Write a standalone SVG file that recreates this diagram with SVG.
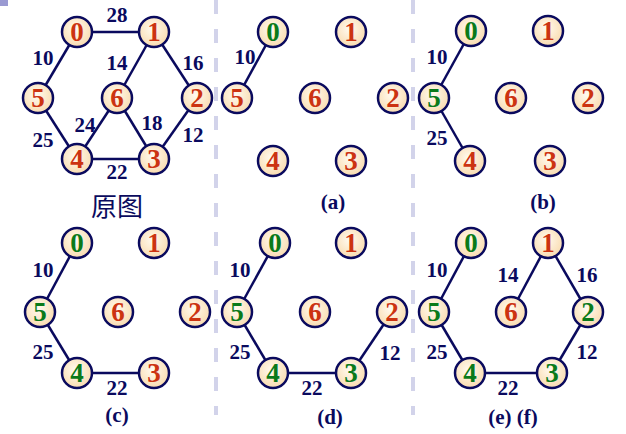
<svg xmlns="http://www.w3.org/2000/svg" width="626" height="434" viewBox="0 0 626 434">
<defs>
<radialGradient id="g" cx="45%" cy="40%" r="60%">
<stop offset="0" stop-color="#fffaf0"/>
<stop offset="1" stop-color="#f9dcb0"/>
</radialGradient>
</defs>
<style>
.nd{fill:url(#g);stroke:#0a0a5e;stroke-width:2.5}
.t{font-family:"Liberation Serif","Times New Roman",serif;font-weight:bold;font-size:27px;text-anchor:middle}
.r{fill:#cc3311}
.gr{fill:#0a7a1a}
.e{stroke:#0a0a5e;stroke-width:2.5;fill:none}
.w{font-family:"Liberation Serif","Times New Roman",serif;font-weight:bold;font-size:21px;text-anchor:middle;fill:#0a0a5e}
.cap{font-family:"Liberation Serif","Times New Roman",serif;font-weight:bold;font-size:21px;text-anchor:middle;fill:#0a0a5e}
.sep{stroke:#d2d3ea;stroke-width:4;stroke-dasharray:14 15;fill:none}
</style>
<rect x="0" y="0" width="8" height="6" fill="#9a9ad2"/>
<g id="separators">
<line class="sep" x1="216" y1="0" x2="216" y2="415"/>
<line class="sep" x1="413" y1="0" x2="413" y2="415"/>
</g>
<g id="connectors">
<line class="e" x1="77" y1="32" x2="154" y2="32"/>
<line class="e" x1="77" y1="32" x2="38" y2="98"/>
<line class="e" x1="154" y1="32" x2="117" y2="98"/>
<line class="e" x1="154" y1="32" x2="197" y2="98"/>
<line class="e" x1="38" y1="98" x2="77" y2="159"/>
<line class="e" x1="117" y1="98" x2="77" y2="159"/>
<line class="e" x1="117" y1="98" x2="154" y2="159"/>
<line class="e" x1="197" y1="98" x2="154" y2="159"/>
<line class="e" x1="77" y1="159" x2="154" y2="159"/>
<line class="e" x1="273" y1="32" x2="237" y2="98"/>
<line class="e" x1="471" y1="31" x2="434" y2="98"/>
<line class="e" x1="434" y1="98" x2="470" y2="161"/>
<line class="e" x1="77" y1="243" x2="40" y2="312"/>
<line class="e" x1="40" y1="312" x2="77" y2="373"/>
<line class="e" x1="77" y1="373" x2="154" y2="373"/>
<line class="e" x1="275" y1="243" x2="237" y2="312"/>
<line class="e" x1="237" y1="312" x2="273" y2="373"/>
<line class="e" x1="273" y1="373" x2="351" y2="373"/>
<line class="e" x1="351" y1="373" x2="392" y2="312"/>
<line class="e" x1="471" y1="243" x2="434" y2="312"/>
<line class="e" x1="434" y1="312" x2="470" y2="373"/>
<line class="e" x1="470" y1="373" x2="552" y2="373"/>
<line class="e" x1="552" y1="373" x2="588" y2="312"/>
<line class="e" x1="588" y1="312" x2="548" y2="243"/>
<line class="e" x1="548" y1="243" x2="511" y2="312"/>
</g>
<g id="weights">
<text class="w" x="117" y="22">28</text>
<text class="w" x="43" y="65">10</text>
<text class="w" x="117" y="70">14</text>
<text class="w" x="193" y="70">16</text>
<text class="w" x="85" y="132">24</text>
<text class="w" x="152" y="130">18</text>
<text class="w" x="43" y="147">25</text>
<text class="w" x="193" y="142">12</text>
<text class="w" x="117" y="179" font-size="20">22</text>
<text class="w" x="245" y="64">10</text>
<text class="w" x="437" y="64">10</text>
<text class="w" x="437" y="145">25</text>
<text class="w" x="43" y="277">10</text>
<text class="w" x="43" y="359">25</text>
<text class="w" x="117" y="395">22</text>
<text class="w" x="240" y="277">10</text>
<text class="w" x="240" y="359">25</text>
<text class="w" x="312" y="395">22</text>
<text class="w" x="390" y="360">12</text>
<text class="w" x="437" y="277">10</text>
<text class="w" x="508" y="282">14</text>
<text class="w" x="587" y="282">16</text>
<text class="w" x="437" y="359">25</text>
<text class="w" x="587" y="359">12</text>
<text class="w" x="508" y="395">22</text>
</g>
<g id="captions">
<text x="117" y="216" font-family="'Noto Sans CJK SC',sans-serif" font-size="26" text-anchor="middle" fill="#0a0a5e">原图</text>
<text class="cap" x="333" y="209">(a)</text>
<text class="cap" x="543" y="209">(b)</text>
<text class="cap" x="117" y="422">(c)</text>
<text class="cap" x="330" y="424">(d)</text>
<text class="cap" x="513" y="424">(e) (f)</text>
</g>
<g id="o-n0"><circle class="nd" cx="77" cy="32" r="15"/><text class="t r" x="77" y="41">0</text></g>
<g id="o-n1"><circle class="nd" cx="154" cy="32" r="15"/><text class="t r" x="154" y="41">1</text></g>
<g id="o-n5"><circle class="nd" cx="38" cy="98" r="15"/><text class="t r" x="38" y="107">5</text></g>
<g id="o-n6"><circle class="nd" cx="117" cy="98" r="15"/><text class="t r" x="117" y="107">6</text></g>
<g id="o-n2"><circle class="nd" cx="197" cy="98" r="15"/><text class="t r" x="197" y="107">2</text></g>
<g id="o-n4"><circle class="nd" cx="77" cy="159" r="15"/><text class="t r" x="77" y="168">4</text></g>
<g id="o-n3"><circle class="nd" cx="154" cy="159" r="15"/><text class="t r" x="154" y="168">3</text></g>
<g id="a-n0"><circle class="nd" cx="273" cy="32" r="15"/><text class="t gr" x="273" y="41">0</text></g>
<g id="a-n1"><circle class="nd" cx="351" cy="32" r="15"/><text class="t r" x="351" y="41">1</text></g>
<g id="a-n5"><circle class="nd" cx="237" cy="98" r="15"/><text class="t r" x="237" y="107">5</text></g>
<g id="a-n6"><circle class="nd" cx="315" cy="98" r="15"/><text class="t r" x="315" y="107">6</text></g>
<g id="a-n2"><circle class="nd" cx="393" cy="98" r="15"/><text class="t r" x="393" y="107">2</text></g>
<g id="a-n4"><circle class="nd" cx="273" cy="161" r="15"/><text class="t r" x="273" y="170">4</text></g>
<g id="a-n3"><circle class="nd" cx="351" cy="161" r="15"/><text class="t r" x="351" y="170">3</text></g>
<g id="b-n0"><circle class="nd" cx="471" cy="31" r="15"/><text class="t gr" x="471" y="40">0</text></g>
<g id="b-n1"><circle class="nd" cx="548" cy="31" r="15"/><text class="t r" x="548" y="40">1</text></g>
<g id="b-n5"><circle class="nd" cx="434" cy="98" r="15"/><text class="t gr" x="434" y="107">5</text></g>
<g id="b-n6"><circle class="nd" cx="511" cy="98" r="15"/><text class="t r" x="511" y="107">6</text></g>
<g id="b-n2"><circle class="nd" cx="588" cy="98" r="15"/><text class="t r" x="588" y="107">2</text></g>
<g id="b-n4"><circle class="nd" cx="470" cy="161" r="15"/><text class="t r" x="470" y="170">4</text></g>
<g id="b-n3"><circle class="nd" cx="550" cy="161" r="15"/><text class="t r" x="550" y="170">3</text></g>
<g id="c-n0"><circle class="nd" cx="77" cy="243" r="15"/><text class="t gr" x="77" y="252">0</text></g>
<g id="c-n1"><circle class="nd" cx="154" cy="243" r="15"/><text class="t r" x="154" y="252">1</text></g>
<g id="c-n5"><circle class="nd" cx="40" cy="312" r="15"/><text class="t gr" x="40" y="321">5</text></g>
<g id="c-n6"><circle class="nd" cx="118" cy="312" r="15"/><text class="t r" x="118" y="321">6</text></g>
<g id="c-n2"><circle class="nd" cx="195" cy="312" r="15"/><text class="t r" x="195" y="321">2</text></g>
<g id="c-n4"><circle class="nd" cx="77" cy="373" r="15"/><text class="t gr" x="77" y="382">4</text></g>
<g id="c-n3"><circle class="nd" cx="154" cy="373" r="15"/><text class="t r" x="154" y="382">3</text></g>
<g id="d-n0"><circle class="nd" cx="275" cy="243" r="15"/><text class="t gr" x="275" y="252">0</text></g>
<g id="d-n1"><circle class="nd" cx="351" cy="243" r="15"/><text class="t r" x="351" y="252">1</text></g>
<g id="d-n5"><circle class="nd" cx="237" cy="312" r="15"/><text class="t gr" x="237" y="321">5</text></g>
<g id="d-n6"><circle class="nd" cx="315" cy="312" r="15"/><text class="t r" x="315" y="321">6</text></g>
<g id="d-n2"><circle class="nd" cx="392" cy="312" r="15"/><text class="t r" x="392" y="321">2</text></g>
<g id="d-n4"><circle class="nd" cx="273" cy="373" r="15"/><text class="t gr" x="273" y="382">4</text></g>
<g id="d-n3"><circle class="nd" cx="351" cy="373" r="15"/><text class="t gr" x="351" y="382">3</text></g>
<g id="e-n0"><circle class="nd" cx="471" cy="243" r="15"/><text class="t gr" x="471" y="252">0</text></g>
<g id="e-n1"><circle class="nd" cx="548" cy="243" r="15"/><text class="t r" x="548" y="252">1</text></g>
<g id="e-n5"><circle class="nd" cx="434" cy="312" r="15"/><text class="t gr" x="434" y="321">5</text></g>
<g id="e-n6"><circle class="nd" cx="511" cy="312" r="15"/><text class="t r" x="511" y="321">6</text></g>
<g id="e-n2"><circle class="nd" cx="588" cy="312" r="15"/><text class="t gr" x="588" y="321">2</text></g>
<g id="e-n4"><circle class="nd" cx="470" cy="373" r="15"/><text class="t gr" x="470" y="382">4</text></g>
<g id="e-n3"><circle class="nd" cx="552" cy="373" r="15"/><text class="t gr" x="552" y="382">3</text></g>
</svg>
